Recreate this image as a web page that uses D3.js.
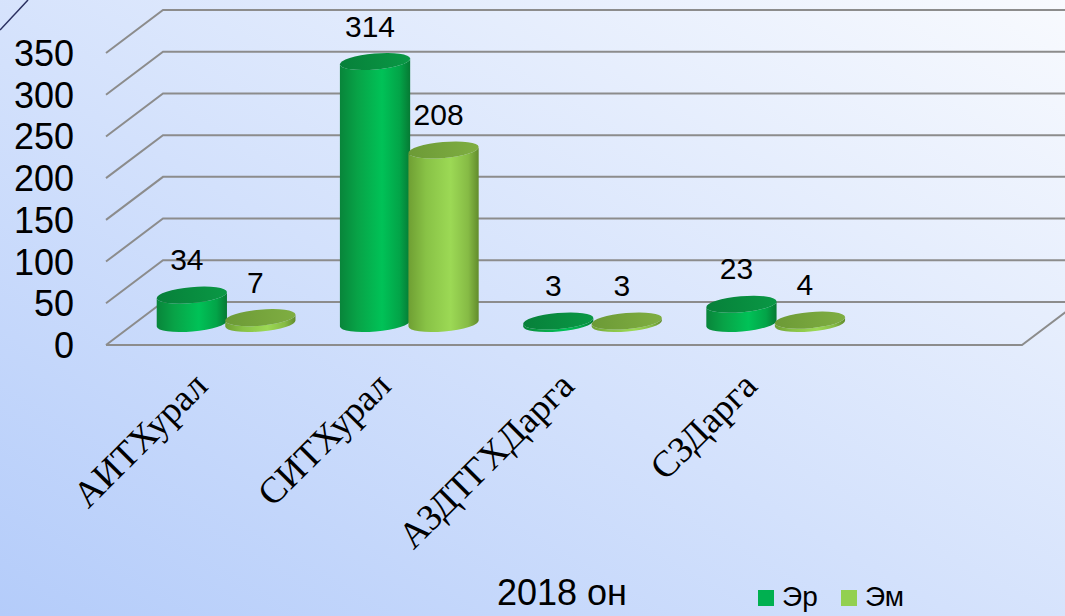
<!DOCTYPE html>
<html>
<head>
<meta charset="utf-8">
<script src="https://cdn.jsdelivr.net/npm/d3@7/dist/d3.min.js"></script>
<style>
  html, body { margin: 0; padding: 0; overflow: hidden; }
  svg { display: block; }
</style>
</head>
<body>
<svg id="chart" width="1065" height="616"></svg>
<script>
// ---- data ----
const categories = ["АИТХурал", "СИТХурал", "АЗДТГХДарга", "СЗДарга"];
const seriesNames = ["Эр", "Эм"];
const erValues = [34, 314, 3, 23];
const emValues = [7, 208, 3, 4];
const yTickValues = [0, 50, 100, 150, 200, 250, 300, 350];
const xAxisTitle = "2018 он";

// ---- layout ----
const W = 1065, H = 616;
const svg = d3.select("#chart");
const defs = svg.append("defs");

const depthDX = 57, depthDY = -43;   // 3D depth offset (front -> back)
const y = d3.scaleLinear().domain([0, 350]).range([345, 53]);
// one extra empty slot on the floor, as in the reference
const x = d3.scaleBand().domain(d3.range(categories.length + 1)).range([106, 1022]);
const xs = d3.scaleBand().domain(seriesNames)
  .range([x.bandwidth() * 0.126, x.bandwidth() * 0.874]);

// background gradient
const bg = defs.append("linearGradient").attr("id", "bg")
  .attr("x1", 0).attr("y1", 1).attr("x2", 1).attr("y2", 0);
bg.append("stop").attr("offset", 0).attr("stop-color", "#b4ccfa");
bg.append("stop").attr("offset", 0.45).attr("stop-color", "#d3e1fc");
bg.append("stop").attr("offset", 1).attr("stop-color", "#f8fafe");
svg.append("rect").attr("width", W).attr("height", H).attr("fill", "url(#bg)");

// decorative corner line
svg.append("line").attr("x1", 0).attr("y1", 30).attr("x2", 28).attr("y2", 0)
  .attr("stroke", "#2b3060").attr("stroke-width", 1.5);

// ---- gridlines (left wall + back wall) ----
const grid = svg.append("g").attr("fill", "none")
  .attr("stroke", "#8c8c8c").attr("stroke-width", 2);
const x0 = x.range()[0], x1 = x.range()[1];
yTickValues.forEach(v => {
  grid.append("path").attr("d",
    `M${x0},${y(v)} L${x0 + depthDX},${y(v) + depthDY} L${x1 + depthDX},${y(v) + depthDY}`);
});
// floor front + right edge
grid.append("path").attr("d",
  `M${x0},${y(0)} L${x1},${y(0)} L${x1 + depthDX},${y(0) + depthDY}`);

// y tick labels
svg.append("g").selectAll("text").data(yTickValues).join("text")
  .attr("x", 74).attr("y", d => y(d) + 13)
  .attr("text-anchor", "end")
  .attr("font-family", "Liberation Sans, Arial, sans-serif")
  .attr("font-size", 36).attr("fill", "#000")
  .text(d => d);

// ---- cylinder gradients ----
function bodyGrad(id, stops) {
  const g = defs.append("linearGradient").attr("id", id)
    .attr("x1", 0).attr("y1", 0).attr("x2", 1).attr("y2", 0);
  stops.forEach(s => g.append("stop").attr("offset", s[0]).attr("stop-color", s[1]));
}
bodyGrad("bodyEr", [[0, "#08853a"], [0.25, "#08a347"], [0.6, "#00c257"], [0.85, "#03a448"], [1, "#067a34"]]);
bodyGrad("bodyEm", [[0, "#6f9f33"], [0.25, "#88c246"], [0.6, "#9cd955"], [0.85, "#86bb45"], [1, "#628c2c"]]);
bodyGrad("topEr", [[0, "#07803a"], [0.5, "#088c3f"], [1, "#0a9845"]]);
bodyGrad("topEm", [[0, "#6c9a36"], [0.5, "#76a43c"], [1, "#7fae42"]]);
const fills = { "Эр": ["url(#bodyEr)", "url(#topEr)"], "Эм": ["url(#bodyEm)", "url(#topEm)"] };

const rx = xs.bandwidth() / 2 + 1, ry = 8, tilt = -5;
const tr = tilt * Math.PI / 180;
const ex = rx * Math.cos(tr), ey = rx * Math.sin(tr);

const points = [];
categories.forEach((c, i) => {
  points.push({ ci: i, s: "Эр", v: erValues[i] });
  points.push({ ci: i, s: "Эм", v: emValues[i] });
});

const bars = svg.append("g");
points.forEach(p => {
  const cx = x(p.ci) + depthDX / 2 + xs(p.s) + xs.bandwidth() / 2;
  const yb = y(0) + depthDY / 2;
  const yt = y(p.v) + depthDY / 2;
  const g = bars.append("g");
  const d = `M${cx - ex},${yt - ey} L${cx - ex},${yb - ey}` +
    ` A${rx},${ry} ${tilt} 0 0 ${cx + ex},${yb + ey}` +
    ` L${cx + ex},${yt + ey}` +
    ` A${rx},${ry} ${tilt} 0 1 ${cx - ex},${yt - ey} Z`;
  g.append("path").attr("d", d).attr("fill", fills[p.s][0]);
  g.append("ellipse").attr("cx", cx).attr("cy", yt).attr("rx", rx).attr("ry", ry)
    .attr("transform", `rotate(${tilt},${cx},${yt})`)
    .attr("fill", fills[p.s][1]);
  p.cx = cx; p.yt = yt;
});

// data labels
svg.append("g").selectAll("text").data(points).join("text")
  .attr("x", d => d.cx - 5).attr("y", d => d.yt - 25)
  .attr("text-anchor", "middle")
  .attr("font-family", "Liberation Sans, Arial, sans-serif")
  .attr("font-size", 30).attr("fill", "#000")
  .text(d => d.v);

// category labels
svg.append("g").selectAll("text").data(categories).join("text")
  .attr("transform", (d, i) => `translate(${x(i) + x.bandwidth() / 2 + 12},388) rotate(-45)`)
  .attr("text-anchor", "end")
  .attr("font-family", "Liberation Serif, Times New Roman, serif")
  .attr("font-size", 37).attr("fill", "#000")
  .text(d => d);

// axis title
svg.append("text").attr("x", 497).attr("y", 605)
  .attr("font-family", "Liberation Sans, Arial, sans-serif")
  .attr("font-size", 36).attr("fill", "#000").text(xAxisTitle);

// legend
const legendColors = { "Эр": "#00b050", "Эм": "#92d050" };
const leg = svg.append("g").selectAll("g").data(seriesNames).join("g")
  .attr("transform", (d, i) => `translate(${758 + i * 83},0)`);
leg.append("rect").attr("x", 0).attr("y", 590).attr("width", 16).attr("height", 16)
  .attr("fill", d => legendColors[d]);
leg.append("text").attr("x", 24).attr("y", 606)
  .attr("font-family", "Liberation Sans, Arial, sans-serif")
  .attr("font-size", 28).attr("fill", "#000").text(d => d);
</script>
</body>
</html>
